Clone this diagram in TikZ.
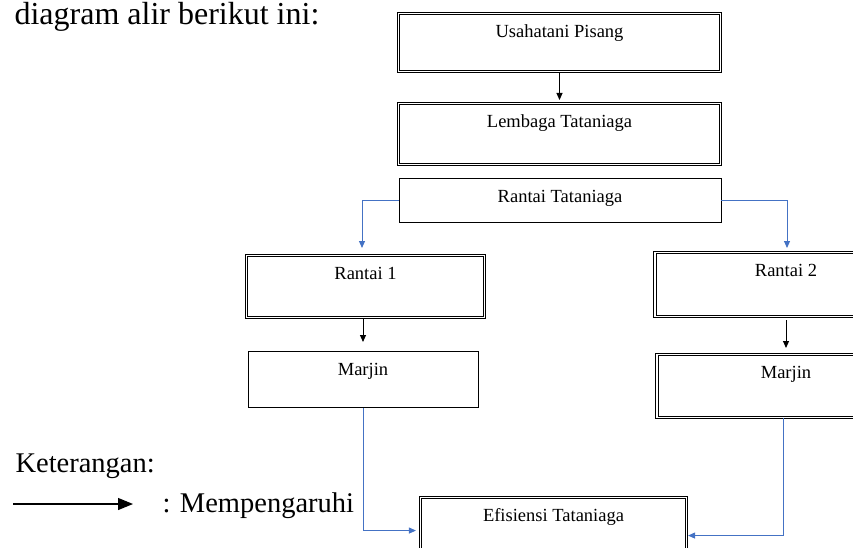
\documentclass[tikz,border=0pt]{standalone}
\usepackage{fontspec}
\setmainfont{Liberation Serif}
\usetikzlibrary{arrows.meta}
\definecolor{birumuda}{RGB}{68,114,196}
\begin{document}
\begin{tikzpicture}[x=1pt, y=-1pt,
	kotak/.style={draw, line width=0.8pt, inner xsep=0pt, inner ysep=0pt, text height=24pt, anchor=north, font=\fontsize{18.5}{18.5}\selectfont},
	ganda/.style={kotak, double, double distance=1.4pt},
	panah/.style={-{Triangle[length=7pt, width=6pt]}, line width=1pt},
	panahbiru/.style={panah, draw=birumuda}]
	\useasboundingbox (0,0) rectangle (853,548);
	\clip (0,0) rectangle (853,548);
	\node at (11,25) [anchor=base west, font=\fontsize{32}{32}\selectfont] {diagram alir berikut ini:};
	\node (usaha) at (559.5,13) [ganda, line width=0.9pt, minimum width=322pt, text depth=34pt] {Usahatani Pisang};
	\node (lembaga) at (559.5,103) [ganda, line width=0.9pt, minimum width=322pt, text depth=37pt] {Lembaga Tataniaga};
	\node (rantai) at (560,178) [kotak, minimum width=322pt, text depth=20pt] {Rantai Tataniaga};
	\node (r1) at (365.5,255) [ganda, line width=0.9pt, minimum width=238pt, text depth=38pt] {Rantai 1};
	\node (m1) at (363,351) [kotak, minimum width=230pt, text depth=32pt] {Marjin};
	\node (r2) at (786,252) [ganda, line width=1.1pt, minimum width=262pt, text depth=40pt] {Rantai 2};
	\node (m2) at (786,354) [ganda, line width=0.9pt, minimum width=258pt, text depth=39pt] {Marjin};
	\node (efis) at (553.5,497) [ganda, line width=1.1pt, minimum width=266pt, text depth=36pt] {Efisiensi Tataniaga};
	\draw[panah, shorten >=3pt] (usaha.south) -- (lembaga.north);
	\draw[panahbiru, shorten >=7pt] (rantai.west) -| ([xshift=-3.5pt]r1.north);
	\draw[panahbiru, shorten >=4pt] (rantai.east) -| ([xshift=1pt]r2.north);
	\draw[panah, shorten >=9pt] (r1.south -| m1.north) -- (m1.north);
	\draw[panah, shorten <=3pt, shorten >=6pt] (r2.south) -- (m2.north);
	\draw[panahbiru, shorten >=4pt] (m1.south) |- ([yshift=-3pt]efis.west);
	\draw[panahbiru, shorten >=1pt] ([xshift=-3pt]m2.south) |- ([yshift=-8pt]efis.east);
	% keterangan
	\node at (12,472) [anchor=base west, font=\fontsize{28.5}{28.5}\selectfont] {Keterangan:};
	\coordinate (la) at (13,504);
	\coordinate (lb) at (133,504);
	\draw[line width=1.2pt, -{Triangle[length=15pt, width=12pt]}] (la) -- (lb);
	\node at (159,512) [anchor=base west, font=\fontsize{28.5}{28.5}\selectfont] {: Mempengaruhi};
\end{tikzpicture}
\end{document}
